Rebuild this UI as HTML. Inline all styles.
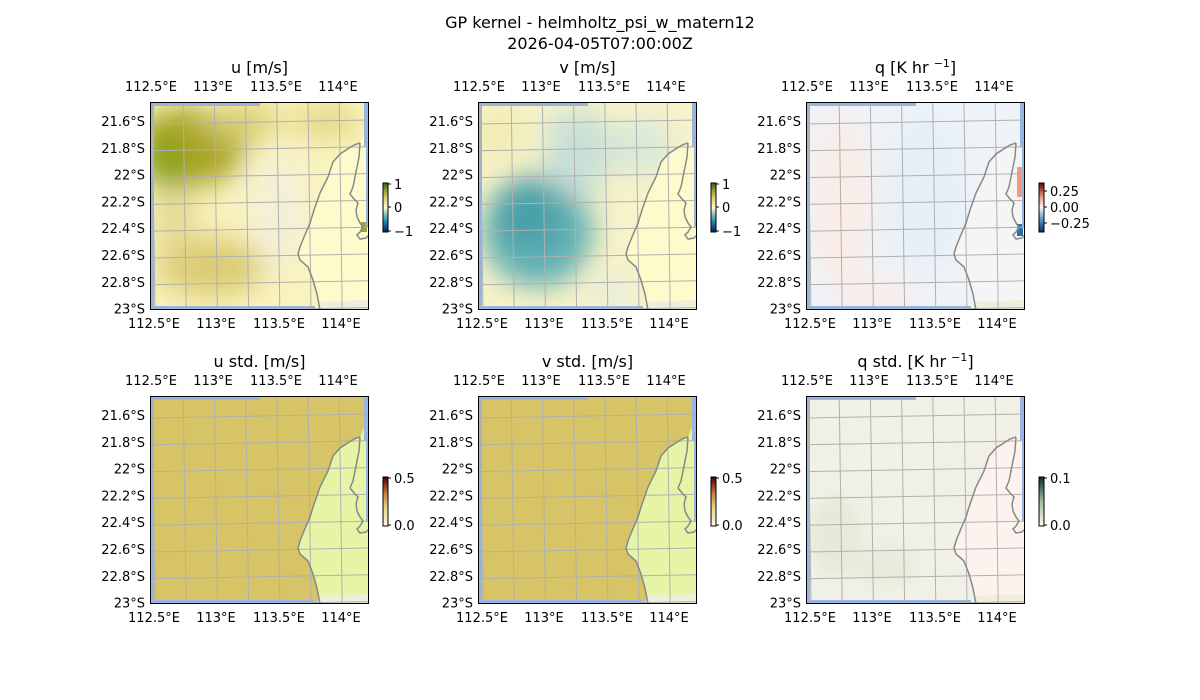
<!DOCTYPE html>
<html><head><meta charset="utf-8"><style>
html,body{margin:0;padding:0;background:#fff;}
svg{display:block;font-family:"DejaVu Sans","Liberation Sans",sans-serif;}
</style></head><body>
<svg id="s" width="1200" height="700" xmlns="http://www.w3.org/2000/svg">
<defs>
<filter id="bl" x="-50%" y="-50%" width="200%" height="200%"><feGaussianBlur stdDeviation="14"/></filter>
<filter id="bs" x="-50%" y="-50%" width="200%" height="200%"><feGaussianBlur stdDeviation="6"/></filter>
<linearGradient id="cbU" x1="0" y1="1" x2="0" y2="0"><stop offset="0" stop-color="#0a1a6a"/><stop offset="0.25" stop-color="#2a9ab0"/><stop offset="0.5" stop-color="#fdfbd0"/><stop offset="0.75" stop-color="#d0c050"/><stop offset="1" stop-color="#2a6a10"/></linearGradient>
<linearGradient id="cbQ" x1="0" y1="1" x2="0" y2="0"><stop offset="0" stop-color="#08306b"/><stop offset="0.3" stop-color="#6aa8d0"/><stop offset="0.5" stop-color="#f7f7f7"/><stop offset="0.7" stop-color="#f0a080"/><stop offset="1" stop-color="#67000d"/></linearGradient>
<linearGradient id="cbS" x1="0" y1="1" x2="0" y2="0"><stop offset="0" stop-color="#fffbe0"/><stop offset="0.4" stop-color="#e8d080"/><stop offset="0.7" stop-color="#c07030"/><stop offset="1" stop-color="#400000"/></linearGradient>
<linearGradient id="cbQS" x1="0" y1="1" x2="0" y2="0"><stop offset="0" stop-color="#fff5f0"/><stop offset="0.5" stop-color="#a0c0a0"/><stop offset="1" stop-color="#003030"/></linearGradient>
</defs>
<g id="root"></g>
</svg>
<script>
let out="";
out+='<text x="600" y="28" text-anchor="middle" font-size="16">GP kernel - helmholtz_psi_w_matern12</text>';
out+='<text x="600" y="49" text-anchor="middle" font-size="16">2026-04-05T07:00:00Z</text>';
const W=219,H=208;
const coast="M210,41 L204,43 L190,52 L183,60 L178,75 L170,91 L164,108 L160,121 L154,135 L150,145 L148,152 L150,158 L158,165 L163,178 L167,192 L170,208 M210,41 L209,55 L206,70 L203,85 L200,92 L204,97 L208,101 L206,108 L207,115 L210,121 L213,125 L210,130 L207,133 L210,137 L216,136 L219,133";
const land="M219,20 L210,41 L204,43 L190,52 L183,60 L178,75 L170,91 L164,108 L160,121 L154,135 L150,145 L148,152 L150,158 L158,165 L163,178 L167,192 L170,208 L219,208 Z";
function panel(x0,y0,title,kind){
  let s=`<text x="${x0+W/2}" y="${y0-29}" text-anchor="middle" font-size="16">${title}</text>`;
  s+=`<svg x="${x0}" y="${y0}" width="${W}" height="${H}" overflow="hidden">`;
  if(kind=="u"){
    s+=`<rect width="${W}" height="${H}" fill="#faf3bc"/>
    <g filter="url(#bl)">
    <ellipse cx="40" cy="45" rx="55" ry="40" fill="#a8a424"/>
    <ellipse cx="15" cy="60" rx="15" ry="30" fill="#80a018"/>
    <ellipse cx="90" cy="20" rx="40" ry="18" fill="#d8cc70"/>
    <ellipse cx="175" cy="20" rx="35" ry="15" fill="#e0d480"/>
    <ellipse cx="60" cy="165" rx="55" ry="30" fill="#dccc74"/>
    <ellipse cx="25" cy="120" rx="20" ry="35" fill="#e4d890"/>
    <ellipse cx="130" cy="110" rx="30" ry="60" fill="#f4f0d8"/>
    </g>
    <path d="${land}" fill="#fdfbcc"/>
    <rect x="211" y="120" width="6" height="10" fill="#a0a820"/>`;
  } else if(kind=="v"){
    s+=`<rect width="${W}" height="${H}" fill="#f8f3c8"/>
    <g filter="url(#bl)">
    <ellipse cx="60" cy="130" rx="55" ry="55" fill="#60b0b4"/>
    <ellipse cx="50" cy="110" rx="35" ry="35" fill="#48a0a8"/>
    <ellipse cx="100" cy="50" rx="35" ry="45" fill="#c8e0d8"/>
    <ellipse cx="20" cy="30" rx="25" ry="25" fill="#f0eab0"/>
    <ellipse cx="165" cy="45" rx="30" ry="30" fill="#d8e8d8"/>
    <ellipse cx="135" cy="190" rx="25" ry="20" fill="#e8eedc"/>
    </g>
    <path d="${land}" fill="#fdfbcc"/>`;
  } else if(kind=="q"){
    s+=`<rect width="${W}" height="${H}" fill="#eef3f8"/>
    <g filter="url(#bl)">
    <ellipse cx="35" cy="100" rx="30" ry="90" fill="#faece6"/>
    <ellipse cx="120" cy="90" rx="40" ry="80" fill="#e6eff7"/>
    <ellipse cx="70" cy="195" rx="40" ry="15" fill="#faeae4"/>
    </g>
    <path d="${land}" fill="#f5f5f5"/>
    <rect x="211" y="65" width="6" height="30" fill="#ef9a7c"/>
    <rect x="211" y="122" width="6" height="12" fill="#2a70b0"/>`;
  } else if(kind=="s"){
    s+=`<rect width="${W}" height="${H}" fill="#d6c466"/>
    <path d="${land}" fill="#e6f4a6"/>`;
  } else if(kind=="qs"){
    s+=`<rect width="${W}" height="${H}" fill="#f0f0e6"/>
    <g filter="url(#bs)"><ellipse cx="30" cy="140" rx="25" ry="40" fill="#e6ead8"/><ellipse cx="80" cy="170" rx="30" ry="20" fill="#e8ecdc"/></g>
    <path d="${land}" fill="#fdf3ee"/>`;
  }
  s+=`<rect x="0" y="0" width="4" height="${H}" fill="#98b4e0"/>
  <rect x="0" y="0" width="110" height="4" fill="#98b4e0"/>
  <rect x="${W-5}" y="0" width="5" height="45" fill="#98b4e0"/>
  <rect x="${W-3}" y="45" width="3" height="80" fill="#98b4e0"/>
  <rect x="0" y="${H-4}" width="165" height="4" fill="#98b4e0"/>
  <path d="M168,200 L219,198 L219,208 L168,208Z" fill="#eeeedc"/>`;
  s+='<g stroke="#b0b0b0" stroke-width="1" fill="none">';
  for(let i=0;i<8;i++){let x=2+i*31.2;s+=`<line x1="${x}" y1="0" x2="${x+3}" y2="${H}"/>`;}
  for(let j=0;j<8;j++){let y=20+j*26.8;s+=`<line x1="0" y1="${y+2}" x2="${W}" y2="${y-2}"/>`;}
  s+='</g>';
  s+=`<path d="${coast}" fill="none" stroke="#888" stroke-width="1.5"/>`;
  s+=`</svg><rect x="${x0+.5}" y="${y0+.5}" width="${W-1}" height="${H-1}" fill="none" stroke="#000" stroke-width="1"/>`;
  const lons=[["112.5°E",1],["113°E",63],["113.5°E",126],["114°E",188]];
  for(const [t,dx] of lons){
    s+=`<text x="${x0+dx}" y="${y0-11}" text-anchor="middle" font-size="13">${t}</text>`;
    s+=`<text x="${x0+dx+3}" y="${y0+H+18}" text-anchor="middle" font-size="13">${t}</text>`;
  }
  const lats=["21.6°S","21.8°S","22°S","22.2°S","22.4°S","22.6°S","22.8°S","23°S"];
  lats.forEach((t,j)=>{let y=y0+19+j*26.8+5;s+=`<text x="${x0-5}" y="${y}" text-anchor="end" font-size="13">${t}</text>`;});
  return s;
}
function cbar(x,y,grad,labels){
  let s=`<rect x="${x}" y="${y}" width="5" height="49" fill="url(#${grad})" stroke="#000" stroke-width="1"/>`;
  for(const [t,dy] of labels){
    s+=`<line x1="${x+5}" y1="${y+dy}" x2="${x+8}" y2="${y+dy}" stroke="#000"/>`;
    s+=`<text x="${x+11}" y="${y+dy+5}" font-size="13">${t}</text>`;
  }
  return s;
}
const xs=[150,478,806], yt=102, yb=396;
out+=panel(xs[0],yt,"u [m/s]","u");
out+=panel(xs[1],yt,"v [m/s]","v");
out+=panel(xs[2],yt,'q [K hr <tspan dy="-6" font-size="11">−1</tspan><tspan dy="6">]</tspan>',"q");
out+=panel(xs[0],yb,"u std. [m/s]","s");
out+=panel(xs[1],yb,"v std. [m/s]","s");
out+=panel(xs[2],yb,'q std. [K hr <tspan dy="-6" font-size="11">−1</tspan><tspan dy="6">]</tspan>',"qs");
out+=cbar(383,183,"cbU",[["1",1],["0",24],["−1",48]]);
out+=cbar(711,183,"cbU",[["1",1],["0",24],["−1",48]]);
out+=cbar(1039,183,"cbQ",[["0.25",8],["0.00",24],["−0.25",40]]);
out+=cbar(383,477,"cbS",[["0.5",1],["0.0",48]]);
out+=cbar(711,477,"cbS",[["0.5",1],["0.0",48]]);
out+=cbar(1039,477,"cbQS",[["0.1",1],["0.0",48]]);
document.getElementById("root").innerHTML=out;
</script>
</body></html>
